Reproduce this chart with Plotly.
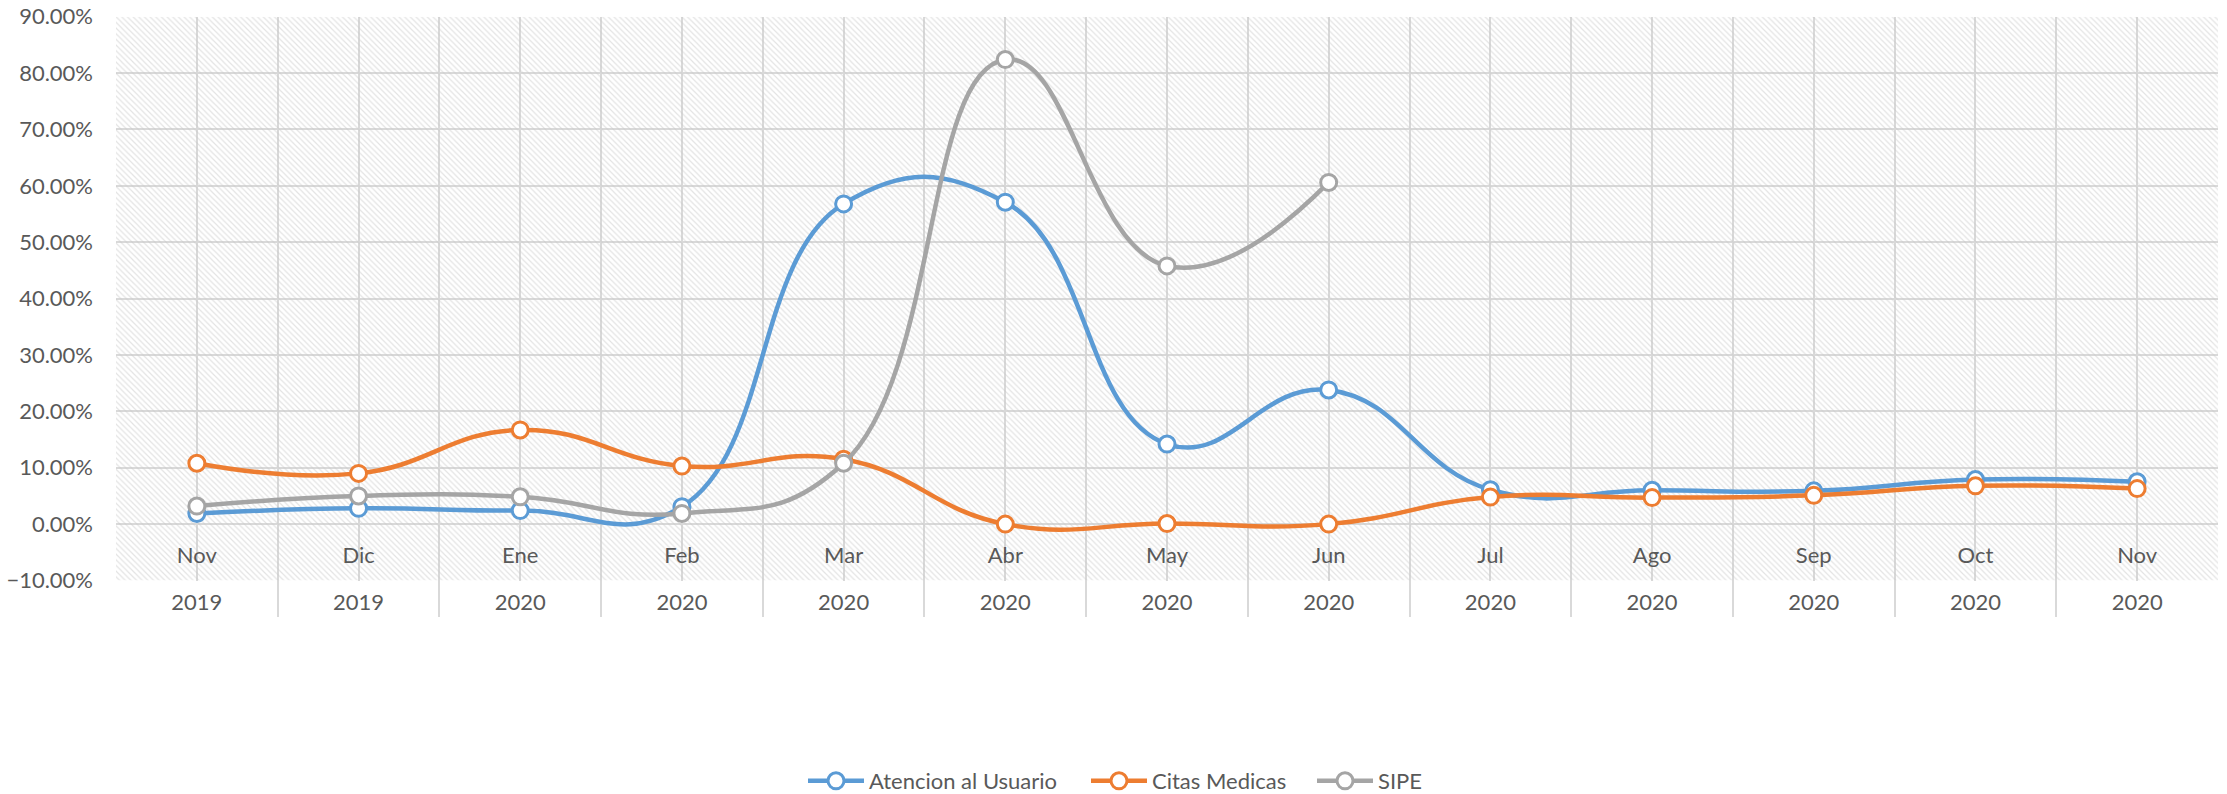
import plotly.graph_objects as go

# ---------------- data ----------------
months = ["Nov", "Dic", "Ene", "Feb", "Mar", "Abr", "May", "Jun", "Jul", "Ago", "Sep", "Oct", "Nov"]
years = ["2019", "2019", "2020", "2020", "2020", "2020", "2020", "2020", "2020", "2020", "2020", "2020", "2020"]
atencion = [0.019, 0.028, 0.024, 0.031, 0.568, 0.571, 0.142, 0.238, 0.061, 0.060, 0.059, 0.079, 0.075]
citas = [0.108, 0.090, 0.167, 0.103, 0.115, 0.000, 0.001, 0.000, 0.048, 0.047, 0.051, 0.068, 0.063]
sipe = [0.032, 0.050, 0.0485, 0.019, 0.108, 0.824, 0.458, 0.606, None, None, None, None, None]
series_names = ["Atencion al Usuario", "Citas Medicas", "SIPE"]
series_colors = ["#5B9BD5", "#ED7D31", "#A5A5A5"]
y_min, y_max, y_step = -0.10, 0.90, 0.10

# ---------------- geometry ----------------
W, H = 2227, 794
FONT = "Lato"
TXT = "#595959"
GRID = "#D9D9D9"


def fy(px):
    return 1 - px / H


n = len(months)
idx = list(range(n))
x_lo, x_hi = -0.5, n - 0.5
xdom = [116 / W, 2218 / W]
legend_ids = ["legend", "legend2", "legend3"]
legend_left_px = [803, 1086, 1312]

fig = go.Figure()

# hatched plot background (decoration spanning the value-axis range)
fig.add_trace(go.Scatter(
    x=[x_lo, x_hi, x_hi, x_lo, x_lo], y=[y_min, y_min, y_max, y_max, y_min],
    xaxis="x2", yaxis="y2", mode="lines", fill="toself",
    line=dict(width=0, color="rgba(0,0,0,0)"),
    fillcolor="rgba(0,0,0,0)",
    fillpattern=dict(shape="\\", size=4, solidity=0.3, fgcolor="#C8C8C8",
                     bgcolor="rgba(255,255,255,0)", fillmode="overlay"),
    hoverinfo="skip", showlegend=False,
))

for name, vals, col, lg in zip(series_names, [atencion, citas, sipe], series_colors, legend_ids):
    fig.add_trace(go.Scatter(
        x=idx, y=vals, name=name, xaxis="x2", yaxis="y2", legend=lg,
        mode="lines+markers",
        line=dict(color=col, width=4.5, shape="spline", smoothing=1.3),
        marker=dict(symbol="circle", size=16, color="white", line=dict(color=col, width=3)),
        connectgaps=False,
    ))

# invisible anchor traces so the helper axes are rendered
fig.add_trace(go.Scatter(x=[None], y=[None], xaxis="x", yaxis="y", showlegend=False, hoverinfo="skip"))
fig.add_trace(go.Scatter(x=[None], y=[None], xaxis="x3", yaxis="y2", showlegend=False, hoverinfo="skip"))

boundaries = [i - 0.5 for i in range(n + 1)]

legend_style = dict(orientation="h", xanchor="left", y=fy(781), yanchor="middle",
                    font=dict(family=FONT, size=22, color=TXT), itemwidth=56,
                    bgcolor="rgba(0,0,0,0)")

fig.update_layout(
    width=W, height=H,
    margin=dict(l=0, r=0, t=0, b=0, autoexpand=False),
    paper_bgcolor="white",
    plot_bgcolor="rgba(0,0,0,0)",
    font=dict(family=FONT, size=22, color=TXT),
    # outer subplot: category boundary lines reaching through the year row
    xaxis=dict(domain=xdom, range=[x_lo, x_hi], tickmode="array", tickvals=boundaries,
               showticklabels=False, showgrid=True, gridcolor=GRID, gridwidth=1.5,
               zeroline=False, showline=False, ticks=""),
    yaxis=dict(domain=[fy(617), fy(16.7)], range=[0, 1], showgrid=False, showticklabels=False,
               zeroline=False, showline=False, ticks=""),
    # inner subplot: values
    xaxis2=dict(domain=xdom, anchor="y2", range=[x_lo, x_hi], tickmode="array", tickvals=idx,
                ticktext=years, showgrid=True, gridcolor=GRID, gridwidth=1.5,
                zeroline=False, showline=False, ticks="", ticklabelstandoff=6,
                tickfont=dict(family=FONT, size=22, color=TXT)),
    yaxis2=dict(domain=[fy(580.5), fy(16.7)], anchor="x2", range=[y_min, y_max],
                tick0=0, dtick=y_step, tickformat=".2%", showgrid=True, gridcolor=GRID,
                gridwidth=1.5, zeroline=False, showline=False, ticks="", ticklabelstandoff=22,
                tickfont=dict(family=FONT, size=22, color=TXT)),
    # month labels sitting on the 0% line
    xaxis3=dict(overlaying="x2", anchor="free", position=fy(524), side="bottom",
                range=[x_lo, x_hi], tickmode="array", tickvals=idx, ticktext=months,
                showgrid=False, zeroline=False, showline=False, ticks="", ticklabelstandoff=16,
                tickfont=dict(family=FONT, size=22, color=TXT)),
    legend=dict(legend_style, x=legend_left_px[0] / W),
    legend2=dict(legend_style, x=legend_left_px[1] / W),
    legend3=dict(legend_style, x=legend_left_px[2] / W),
    showlegend=True,
)

fig.write_html("out.html", config={"displayModeBar": False},
               post_script="document.body.style.margin='0';document.body.style.overflow='hidden';")
